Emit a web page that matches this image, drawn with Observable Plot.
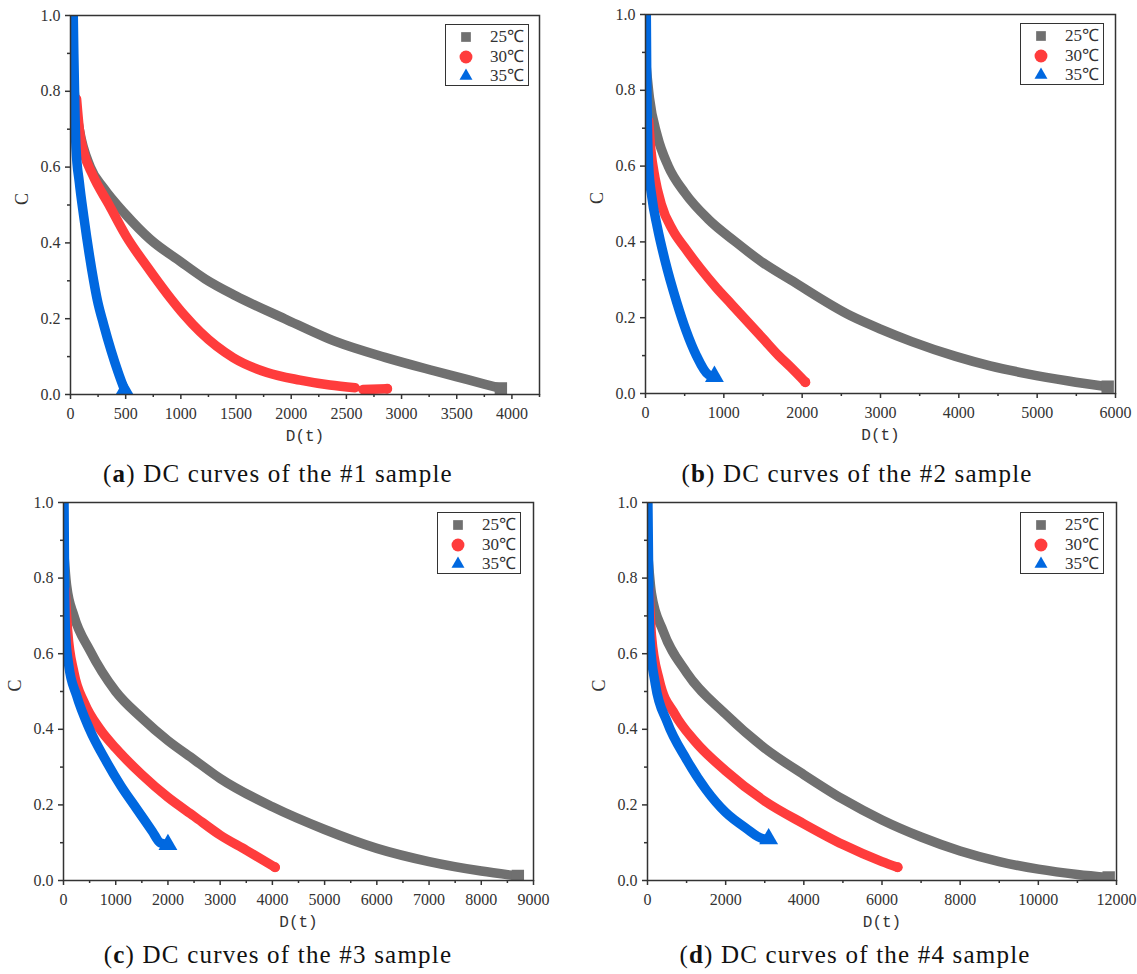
<!DOCTYPE html>
<html><head><meta charset="utf-8">
<script src="https://cdn.jsdelivr.net/npm/d3@7"></script>
<script src="https://cdn.jsdelivr.net/npm/@observablehq/plot@0.6"></script>
<style>
body{margin:0;background:#fff;}
#root{position:relative;width:1137px;height:974px;font-family:"Liberation Serif",serif;}
#root svg.pl{position:absolute;overflow:visible;font-family:"Liberation Serif",serif;}
.cap{position:absolute;font-size:25px;letter-spacing:1.2px;color:#111;transform:translate(-50%,-50%);white-space:nowrap;font-family:"Liberation Serif",serif;}
.leg{position:absolute;border:1.5px solid #333;background:#fff;width:84px;height:62px;box-sizing:border-box;}
.leg .row{position:absolute;left:0;right:0;height:20px;}
.leg .row span{position:absolute;right:4px;top:0;font-size:17px;line-height:20px;color:#333;font-family:"Liberation Serif",serif;}
.leg .row svg{position:absolute;left:12px;top:2px;}
</style></head><body><div id="root"></div>
<script>
const temps = ["25℃", "30℃", "35℃"];
const colors = ["#707070", "#ff3c3c", "#0068e0"];
const symbols = ["square", "circle", "triangle"];
const yTicks = [0, 0.2, 0.4, 0.6, 0.8, 1.0];
const yMinor = [0.1, 0.3, 0.5, 0.7, 0.9];

// (a) #1 sample
const a_D25 = [15, 40, 80, 180, 300, 500, 720, 1000, 1220, 1500, 1940, 2400, 2850, 3300, 3600, 3900];
const a_C25 = [0.87, 0.78, 0.70, 0.60, 0.545, 0.475, 0.41, 0.35, 0.305, 0.26, 0.20, 0.14, 0.098, 0.062, 0.039, 0.016];
const a_D30 = [55, 80, 120, 200, 350, 500, 700, 877, 1030, 1175, 1475, 1780, 2080, 2350, 2580, 2615, 2650, 2870];
const a_C30 = [0.78, 0.70, 0.64, 0.58, 0.50, 0.42, 0.335, 0.265, 0.21, 0.165, 0.097, 0.058, 0.038, 0.025, 0.018, NaN, 0.013, 0.015];
const a_D35 = [25, 30, 40, 50, 80, 120, 170, 210, 244, 300, 368, 430, 490];
const a_C35 = [1.0, 0.9, 0.75, 0.65, 0.56, 0.47, 0.37, 0.30, 0.248, 0.185, 0.116, 0.06, 0.012];

// (b) #2 sample
const b_D25 = [10, 50, 150, 290, 500, 800, 1150, 1500, 1850, 2620, 3000, 3400, 3960, 4400, 4874, 5400, 5900];
const b_C25 = [0.86, 0.78, 0.68, 0.60, 0.53, 0.46, 0.40, 0.345, 0.30, 0.205, 0.17, 0.137, 0.098, 0.073, 0.052, 0.033, 0.018];
const b_D30 = [40, 70, 120, 200, 350, 500, 700, 900, 1100, 1300, 1500, 1700, 1850, 2040];
const b_C30 = [0.72, 0.64, 0.57, 0.50, 0.43, 0.385, 0.33, 0.28, 0.235, 0.19, 0.145, 0.10, 0.07, 0.03];
const b_D35 = [10, 15, 25, 40, 80, 150, 250, 400, 518, 650, 800, 880];
const b_C35 = [1.0, 0.85, 0.70, 0.60, 0.52, 0.44, 0.35, 0.24, 0.166, 0.10, 0.05, 0.045];

// (c) #3 sample
const c_D25 = [10, 60, 200, 500, 1000, 1500, 2000, 2500, 3000, 4000, 5000, 6000, 7000, 8000, 8700];
const c_C25 = [0.86, 0.78, 0.70, 0.61, 0.50, 0.43, 0.37, 0.32, 0.27, 0.195, 0.135, 0.085, 0.05, 0.025, 0.012];
const c_D30 = [30, 80, 200, 400, 700, 1000, 1500, 2000, 2500, 3000, 3500, 4050];
const c_C30 = [0.77, 0.66, 0.55, 0.47, 0.40, 0.35, 0.28, 0.22, 0.17, 0.12, 0.08, 0.035];
const c_D35 = [10, 20, 40, 100, 250, 500, 800, 1100, 1400, 1700, 1850, 2000];
const c_C35 = [1.0, 0.80, 0.65, 0.57, 0.49, 0.40, 0.32, 0.25, 0.19, 0.13, 0.10, 0.095];

// (d) #4 sample
const d_D25 = [10, 100, 400, 1000, 2000, 3000, 4000, 5000, 6000, 7000, 8000, 9000, 10000, 11000, 11800];
const d_C25 = [0.86, 0.76, 0.66, 0.55, 0.44, 0.35, 0.28, 0.215, 0.16, 0.115, 0.078, 0.05, 0.03, 0.016, 0.008];
const d_D30 = [40, 100, 300, 700, 1200, 2000, 3000, 4000, 5000, 6000, 6400];
const d_C30 = [0.77, 0.65, 0.53, 0.44, 0.37, 0.29, 0.21, 0.15, 0.095, 0.05, 0.035];
const d_D35 = [10, 30, 60, 200, 500, 1000, 1500, 2000, 2500, 3000, 3100];
const d_C35 = [1.0, 0.80, 0.64, 0.52, 0.42, 0.32, 0.24, 0.18, 0.14, 0.11, 0.11];

const panels = [
  {letter: "a", num: "1", left: 0, top: 0, width: 560, height: 450, mL: 70, mR: 21, mT: 15, mB: 56,
   xMax: 4250, xMajor: d3.range(0, 4001, 500), xMinor: d3.range(250, 4251, 500),
   D: [a_D25, a_D30, a_D35], C: [a_C25, a_C30, a_C35], leg: [445, 24], cap: [278, 474]},
  {letter: "b", num: "2", left: 570, top: 0, width: 567, height: 450, mL: 75, mR: 22, mT: 14, mB: 57,
   xMax: 6000, xMajor: d3.range(0, 6001, 1000), xMinor: d3.range(500, 6000, 1000),
   D: [b_D25, b_D30, b_D35], C: [b_C25, b_C30, b_C35], leg: [1020, 23], cap: [857, 474]},
  {letter: "c", num: "3", left: 0, top: 487, width: 560, height: 450, mL: 63, mR: 27, mT: 15, mB: 57,
   xMax: 9000, xMajor: d3.range(0, 9001, 1000), xMinor: d3.range(500, 9000, 1000),
   D: [c_D25, c_D30, c_D35], C: [c_C25, c_C30, c_C35], leg: [437, 512], cap: [278, 955]},
  {letter: "d", num: "4", left: 570, top: 487, width: 567, height: 450, mL: 77, mR: 21, mT: 15, mB: 57,
   xMax: 12000, xMajor: d3.range(0, 12001, 2000), xMinor: d3.range(1000, 12000, 2000),
   D: [d_D25, d_D30, d_D35], C: [d_C25, d_C30, d_C35], leg: [1020, 512], cap: [855, 955]}
];

const root = document.getElementById("root");
const axisColor = "#333";
const tickFont = "'Liberation Serif', serif";

for (const p of panels) {
  const series = [];
  const ends = [];
  p.D.forEach((arr, si) => {
    arr.forEach((d, i) => series.push({D: d, C: p.C[si][i], t: temps[si]}));
    const last = arr.length - 1;
    ends.push({D: arr[last], C: p.C[si][last], t: temps[si]});
  });
  const lineMarks = temps.map((t, si) =>
    Plot.line(series.filter(r => r.t === t), {x: "D", y: "C", stroke: colors[si], strokeWidth: 9.5,
      curve: "monotone-x", strokeLinejoin: "round", strokeLinecap: si === 1 ? "round" : "butt", clip: true}));
  const endMarks = temps.map((t, si) =>
    Plot.dot(ends.filter(r => r.t === t), {x: "D", y: "C", fill: colors[si], symbol: symbols[si], r: si === 1 ? 5 : 7, clip: true}));
  const axOpts = {stroke: axisColor, strokeWidth: 1.5, label: null, fontFamily: tickFont, fontSize: 16, fill: axisColor};
  const svg = Plot.plot({
    width: p.width, height: p.height,
    marginLeft: p.mL, marginRight: p.mR, marginTop: p.mT, marginBottom: p.mB,
    style: {fontFamily: tickFont, fontSize: "16px", color: axisColor, background: "transparent", overflow: "visible"},
    x: {domain: [0, p.xMax], label: null},
    y: {domain: [0, 1], label: null},
    marks: [
      ...lineMarks,
      ...endMarks,
      Plot.frame({stroke: axisColor, strokeWidth: 1.5}),
      Plot.axisX({...axOpts, ticks: p.xMajor, tickSize: 5, tickPadding: 8, tickFormat: d => String(d)}),
      Plot.axisX({...axOpts, ticks: p.xMinor, tickSize: 3, tickFormat: () => ""}),
      Plot.axisY({...axOpts, ticks: yTicks, tickSize: 5, tickPadding: 5, tickFormat: d3.format(".1f")}),
      Plot.axisY({...axOpts, ticks: yMinor, tickSize: 3, tickFormat: () => ""}),
      Plot.text(["D(t)"], {frameAnchor: "bottom", dy: 46, fontSize: 16, fill: axisColor, fontFamily: "'Liberation Mono', monospace"}),
      Plot.text(["C"], {frameAnchor: "left", dx: -48, rotate: -90, fontSize: 18, fill: axisColor, fontFamily: tickFont})
    ]
  });
  svg.classList.add("pl");
  svg.style.left = p.left + "px";
  svg.style.top = p.top + "px";
  root.appendChild(svg);

  // legend
  const leg = document.createElement("div");
  leg.className = "leg";
  leg.style.left = p.leg[0] + "px";
  leg.style.top = p.leg[1] + "px";
  temps.forEach((t, si) => {
    const row = document.createElement("div");
    row.className = "row";
    row.style.top = (2 + si * 19.5) + "px";
    const sym = d3.create("svg").attr("width", 16).attr("height", 16);
    sym.append("path")
      .attr("transform", "translate(8,8)")
      .attr("d", d3.symbol(si === 0 ? d3.symbolSquare2 : si === 1 ? d3.symbolCircle : d3.symbolTriangle2, si === 0 ? 120 : si === 1 ? 130 : 120)())
      .attr("fill", colors[si]);
    row.appendChild(sym.node());
    const s = document.createElement("span");
    s.textContent = t;
    row.appendChild(s);
    leg.appendChild(row);
  });
  root.appendChild(leg);

  // caption
  const cap = document.createElement("div");
  cap.className = "cap";
  cap.style.left = p.cap[0] + "px";
  cap.style.top = p.cap[1] + "px";
  cap.innerHTML = "(<b>" + p.letter + "</b>) DC curves of the #" + p.num + " sample";
  root.appendChild(cap);
}
</script></body></html>
